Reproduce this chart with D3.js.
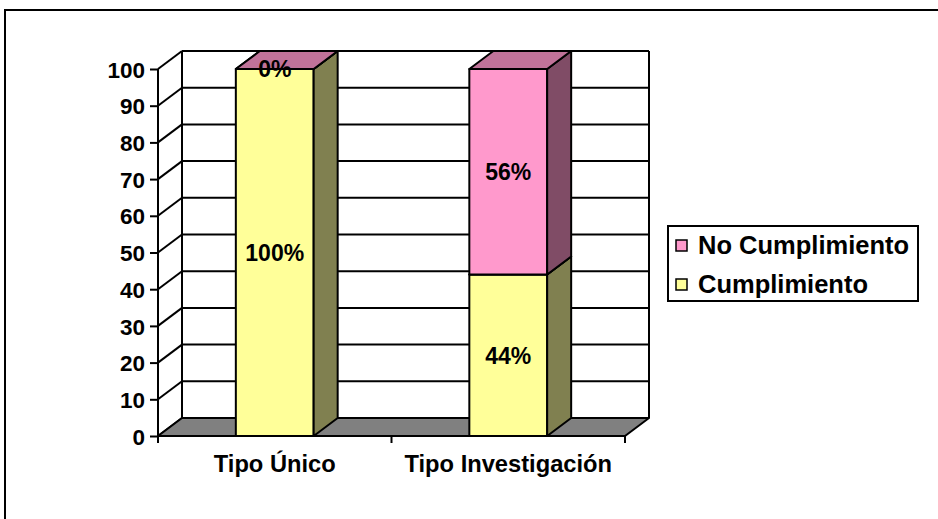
<!DOCTYPE html>
<html>
<head>
<meta charset="utf-8">
<script src="https://cdn.jsdelivr.net/npm/d3@7"></script>
<style>
  html, body { margin: 0; padding: 0; background: #fff; }
  svg { display: block; }
  text { font-family: "Liberation Sans", Arial, sans-serif; font-weight: bold; fill: #000; }
</style>
</head>
<body>
<svg id="chart" width="938" height="519"></svg>
<script>
// Chart data
const categories = ["Tipo Único", "Tipo Investigación"];
const seriesKeys = ["Cumplimiento", "No Cumplimiento"];
const cumplimiento = [100, 44];
const noCumplimiento = [0, 56];
const yTicks = [0, 10, 20, 30, 40, 50, 60, 70, 80, 90, 100];

// Colours per series: front, side, top faces
const faces = {
  "Cumplimiento":    { front: "#FFFF99", side: "#808050", top: "#C0C073" },
  "No Cumplimiento": { front: "#FF99CC", side: "#804C66", top: "#C07399" }
};

const svg = d3.select("#chart");

// Outer frame
svg.append("rect")
  .attr("x", 5).attr("y", 10).attr("width", 1000).attr("height", 600)
  .attr("fill", "none").attr("stroke", "#000").attr("stroke-width", 2);

// Plot geometry (front plane) and 3D depth offset
const plotLeft = 158, plotRight = 625, plotBottom = 436, plotTop = 69;
const dx = 24, dy = -18;

const y = d3.scaleLinear().domain([0, 100]).range([plotBottom, plotTop]);
const x = d3.scaleBand().domain(categories).range([plotLeft, plotRight])
  .paddingInner(2 / 3).paddingOuter(1 / 3);

const walls = svg.append("g")
  .attr("stroke", "#000").attr("stroke-width", 2).attr("fill", "none");

// Back wall gridlines
walls.selectAll("line.grid").data(yTicks).join("line")
  .attr("class", "grid")
  .attr("x1", plotLeft + dx).attr("x2", plotRight + dx)
  .attr("y1", d => y(d) + dy).attr("y2", d => y(d) + dy);

// Back wall edges
walls.selectAll("line.edge").data([plotLeft + dx, plotRight + dx]).join("line")
  .attr("class", "edge")
  .attr("x1", d => d).attr("x2", d => d)
  .attr("y1", y(0) + dy).attr("y2", y(100) + dy);

// Side wall diagonals
walls.selectAll("line.diag").data(yTicks).join("line")
  .attr("class", "diag")
  .attr("x1", plotLeft).attr("x2", plotLeft + dx)
  .attr("y1", d => y(d)).attr("y2", d => y(d) + dy);

// Floor
const pts = p => p.map(q => q.join(",")).join(" ");
svg.append("polygon")
  .attr("points", pts([[plotLeft, y(0)], [plotRight, y(0)], [plotRight + dx, y(0) + dy], [plotLeft + dx, y(0) + dy]]))
  .attr("fill", "#808080").attr("stroke", "#000").attr("stroke-width", 2)
  .attr("stroke-linejoin", "round");

// Value axis
const yAxis = svg.append("g")
  .attr("transform", `translate(${plotLeft},0)`)
  .call(d3.axisLeft(y).tickValues(yTicks).tickSize(8).tickPadding(5));
yAxis.select(".domain").attr("stroke", "#000").attr("stroke-width", 2)
  .attr("d", `M0,${y(0)}V${y(100)}`);
yAxis.selectAll(".tick line").attr("stroke", "#000").attr("stroke-width", 2);
yAxis.selectAll(".tick text").style("font-size", "22.5px")
  .attr("dy", "0.36em");

// Category axis: boundary ticks plus centred labels
const bounds = [plotLeft, ...categories.slice(1).map(c => x(c) - x.step() * x.paddingInner() / 2), plotRight];
svg.append("g").selectAll("line").data(bounds).join("line")
  .attr("x1", d => d).attr("x2", d => d)
  .attr("y1", y(0)).attr("y2", y(0) + 7)
  .attr("stroke", "#000").attr("stroke-width", 2);

const xAxis = svg.append("g")
  .attr("transform", `translate(0,${plotBottom})`)
  .call(d3.axisBottom(x).tickSize(0).tickPadding(19));
xAxis.select(".domain").remove();
xAxis.selectAll(".tick text").style("font-size", "23.7px");

// Stacked 3D columns
const rows = categories.map((c, i) => ({
  category: c,
  "Cumplimiento": cumplimiento[i],
  "No Cumplimiento": noCumplimiento[i]
}));
const stacked = d3.stack().keys(seriesKeys)(rows);

const bars = svg.append("g").attr("stroke", "#000").attr("stroke-width", 2)
  .attr("stroke-linejoin", "round");

categories.forEach((c, i) => {
  const bx = x(c), bw = x.bandwidth();
  stacked.forEach(s => {
    const [v0, v1] = s[i];
    const f = faces[s.key];
    const yb = y(v0), yt = y(v1);
    bars.append("rect")
      .attr("x", bx).attr("y", yt).attr("width", bw).attr("height", yb - yt)
      .attr("fill", f.front);
    bars.append("polygon")
      .attr("points", pts([[bx + bw, yb], [bx + bw + dx, yb + dy], [bx + bw + dx, yt + dy], [bx + bw, yt]]))
      .attr("fill", f.side);
    bars.append("polygon")
      .attr("points", pts([[bx, yt], [bx + dx, yt + dy], [bx + bw + dx, yt + dy], [bx + bw, yt]]))
      .attr("fill", f.top);
  });
});

// Value labels in each segment
const labels = svg.append("g");
categories.forEach((c, i) => {
  stacked.forEach(s => {
    const [v0, v1] = s[i];
    labels.append("text")
      .attr("x", x(c) + x.bandwidth() / 2)
      .attr("y", y((v0 + v1) / 2))
      .attr("text-anchor", "middle")
      .attr("dy", "0.36em")
      .style("font-size", "23px")
      .text(`${v1 - v0}%`);
  });
});

// Legend
const legend = svg.append("g");
legend.append("rect")
  .attr("x", 668).attr("y", 226).attr("width", 250).attr("height", 75)
  .attr("fill", "#fff").attr("stroke", "#000").attr("stroke-width", 2);
const legendItems = seriesKeys.slice().reverse();
legendItems.forEach((k, j) => {
  const g = legend.append("g").attr("transform", `translate(676,${240 + j * 39})`);
  g.append("rect").attr("width", 11).attr("height", 11)
    .attr("fill", faces[k].front).attr("stroke", "#000").attr("stroke-width", 1.5);
  g.append("text").attr("x", 22).attr("y", 14)
    .style("font-size", "25.5px").text(k);
});
</script>
</body>
</html>
